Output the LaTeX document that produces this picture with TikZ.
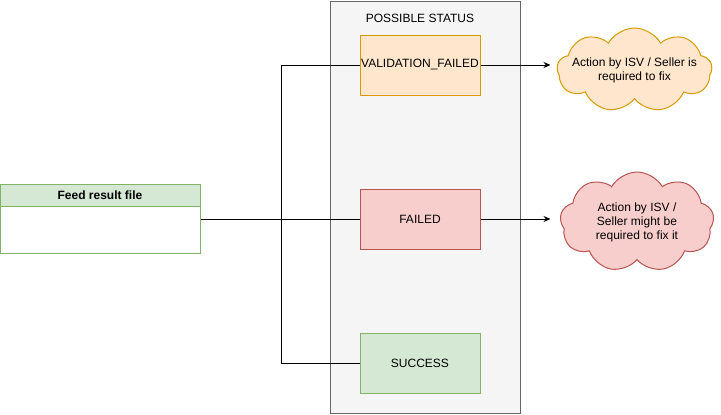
\documentclass[tikz,border=0pt]{standalone}
\usepackage{fontspec}
\setmainfont{Liberation Sans}
\usetikzlibrary{shapes.symbols,arrows.meta}

\definecolor{boxgray}{HTML}{F5F5F5}
\definecolor{linegray}{HTML}{666666}
\definecolor{orangefill}{HTML}{FFE6CC}
\definecolor{orangeline}{HTML}{D79B00}
\definecolor{redfill}{HTML}{F8CECC}
\definecolor{redline}{HTML}{B85450}
\definecolor{greenfill}{HTML}{D5E8D4}
\definecolor{greenline}{HTML}{82B366}

\begin{document}
\begin{tikzpicture}[x=1pt, y=-1pt, line width=1pt,
    every node/.style={font=\fontsize{12}{14}\selectfont, align=center, inner sep=0pt},
    statusbox/.style={rectangle, draw, minimum width=120pt, minimum height=60pt},
    note/.style={cloud, draw, cloud puffs=9, cloud puff arc=120, cloud ignores aspect, minimum width=155pt, minimum height=84pt}]
      \useasboundingbox (0,0) rectangle (721,415);

      \node (group) [rectangle, draw=linegray, fill=boxgray, minimum width=190pt, minimum height=412pt] at (425,207) {};
      \node (title) at (420,18) {POSSIBLE STATUS};
      \node (valfail) [statusbox, draw=orangeline, fill=orangefill] at (420,65) {VALIDATION\_FAILED};
      \node (failed) [statusbox, draw=redline, fill=redfill] at (420,219) {FAILED};
      \node (success) [statusbox, draw=greenline, fill=greenfill] at (420,363) {SUCCESS};

      \node (feed) [rectangle, draw=greenline, fill=white, minimum width=200pt, minimum height=69pt] at (100,218.5) {};
      \node (feedhead) [rectangle, draw=greenline, fill=greenfill, minimum width=200pt, minimum height=22pt, font=\fontsize{12}{14}\selectfont\bfseries] at (100,195) {Feed result file};

      \node (fixnote) [note, draw=orangeline, fill=orangefill] at (634.5,70) {};
      \node (fixtext) at (fixnote.center) {Action by ISV / Seller is\\required to fix};
      \node (maybenote) [note, draw=redline, fill=redfill, minimum width=154pt, minimum height=100pt] at (637,222) {};
      \node (maybetext) at (maybenote.center) {Action by ISV /\\Seller might be\\required to fix it};

      \coordinate (split) at (281,219);
      \draw (feed.east |- split) -- (failed.west);
      \draw (split) |- (valfail.west);
      \draw (split) |- (success.west);
      \draw[-{Stealth[length=7pt,width=6pt]}] (valfail.east) -- ++(70,0);
      \draw[-{Stealth[length=7pt,width=6pt]}] (failed.east) -- ++(70,0);
    \end{tikzpicture}
\end{document}
